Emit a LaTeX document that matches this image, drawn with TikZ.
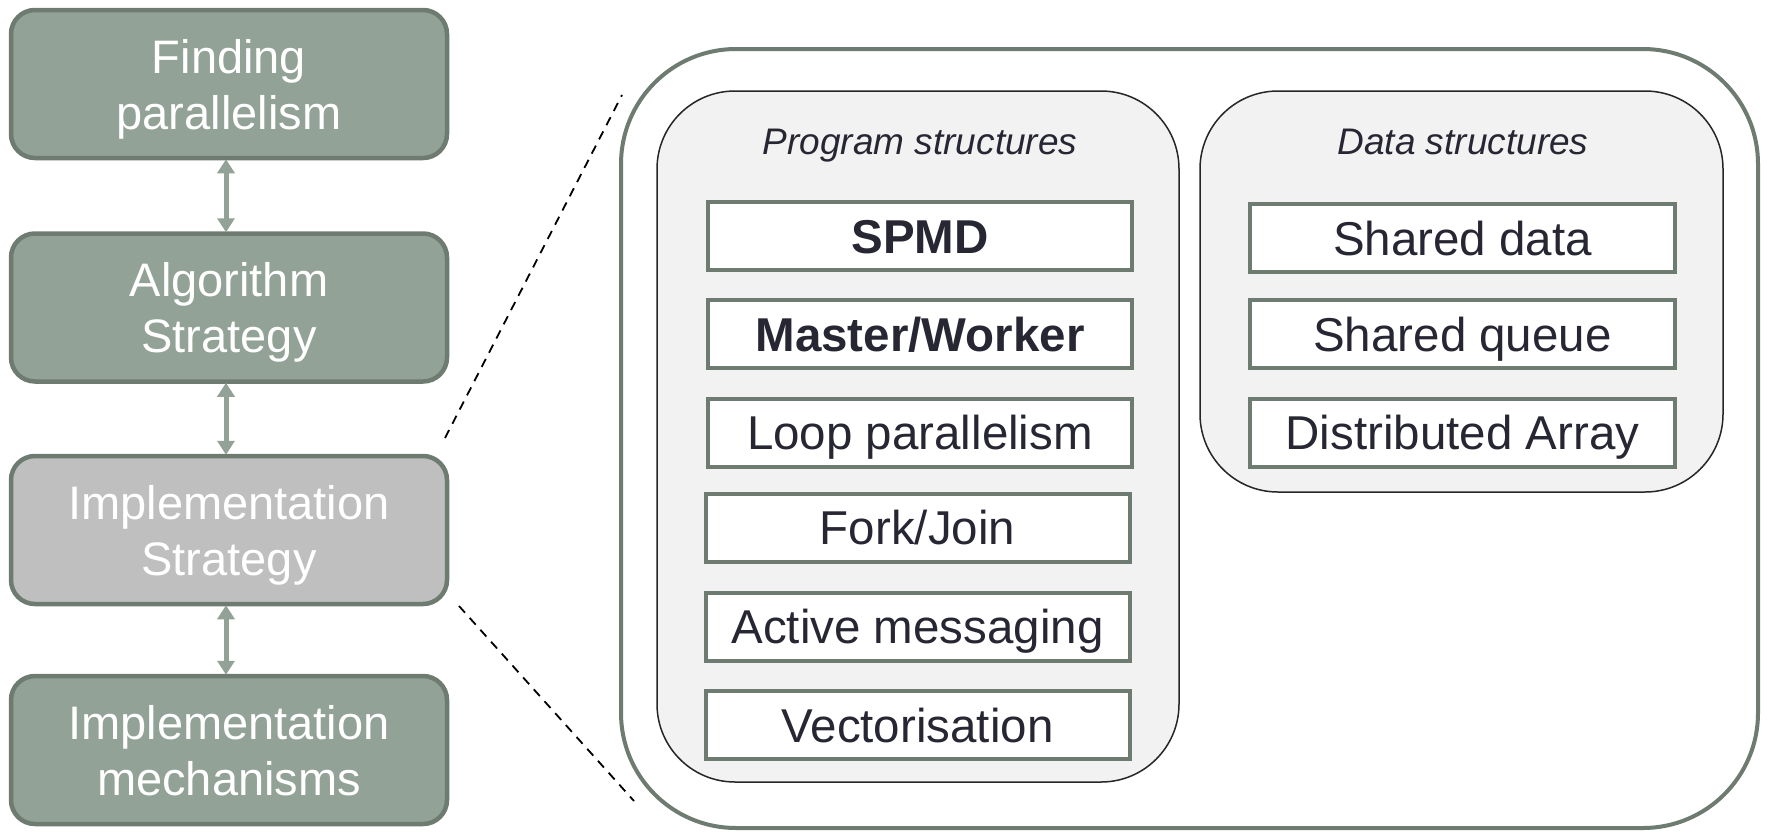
\documentclass[tikz,border=0pt]{standalone}
\usepackage{fontspec}
\setmainfont{Liberation Sans}
\usetikzlibrary{arrows.meta}
\definecolor{sage}{HTML}{92A296}
\definecolor{sagedark}{HTML}{6E7B70}
\definecolor{greybox}{HTML}{BFBFBF}
\definecolor{txt}{HTML}{272734}
\definecolor{panel}{HTML}{F2F2F2}
\newcommand{\topstrut}{\rule{0pt}{44pt}}
\newcommand{\botstrut}{\rule[-10pt]{0pt}{10pt}}
\begin{document}
\begin{tikzpicture}[x=1pt,y=-1pt,
  stage/.style={draw=sagedark, line width=4.5pt, fill=sage, rounded corners=24pt,
    minimum width=436pt, minimum height=148pt, text=white, align=center,
    font=\fontsize{47}{56}\selectfont, inner sep=0pt},
  current/.style={stage, fill=greybox},
  link/.style={draw=sage, line width=5pt, {Triangle[width=17pt,length=14pt]}-{Triangle[width=17pt,length=14pt]}, shorten <=-1pt, shorten >=-1pt},
  outerpanel/.style={draw=sagedark, line width=4pt, fill=white, rounded corners=115pt, inner sep=0pt},
  subpanel/.style={draw=black!85, line width=1.5pt, fill=panel, rounded corners=78pt, inner sep=0pt},
  paneltitle/.style={text=txt, font=\fontsize{37}{44}\selectfont\itshape, inner sep=0pt,
    text height=27pt, text depth=0pt},
  item/.style={draw=sagedark, line width=4pt, fill=white, minimum width=424pt, minimum height=68pt,
    text=txt, font=\fontsize{47.5}{56}\selectfont, inner sep=0pt, text height=34pt, text depth=0pt},
  bolditem/.style={item, font=\fontsize{47.5}{56}\selectfont\bfseries},
  zoomline/.style={draw=black, line width=1.8pt, dash pattern=on 9pt off 7pt}
]
\useasboundingbox (0,0) rectangle (1769,833);

% left column
\node[stage]   (find) at (229,84)    {\topstrut Finding\\parallelism\botstrut};
\node[stage]   (algo) at (229,307.5) {\topstrut Algorithm\\Strategy\botstrut};
\node[current] (impl) at (229,530)   {\topstrut Implementation\\Strategy\botstrut};
\node[stage]   (mech) at (229,750)   {\topstrut Implementation\\mechanisms\botstrut};

\draw[link] ([xshift=-3pt]find.south) -- ([xshift=-3pt]algo.north);
\draw[link] ([xshift=-3pt]algo.south) -- ([xshift=-3pt]impl.north);
\draw[link] ([xshift=-3pt]impl.south) -- ([xshift=-3pt]mech.north);

% zoom panel
\node[outerpanel, minimum width=1137pt, minimum height=779pt] (outer) at (1189.5,438.5) {};
\node[subpanel, minimum width=522pt, minimum height=691pt] (prog) at (918,436.5) {};
\node[subpanel, minimum width=523pt, minimum height=401pt] (data) at (1461.5,291.5) {};

\node[paneltitle] (progt) at (920,141) {Program structures};
\node[paneltitle] (datat) at (1463,141) {Data structures};

\node[bolditem] (spmd)   at (920,236)     {SPMD};
\node[bolditem] (master) at (920,334)     {Master/Worker};
\node[item]     (loop)   at (920,432.5)   {Loop parallelism};
\node[item]     (fork)   at (917.5,527.5) {Fork/Join};
\node[item]     (active) at (917.5,626.5) {Active messaging};
\node[item]     (vect)   at (917.5,725)   {Vectorisation};

\node[item, minimum width=425pt] (sdata)  at (1462.5,238)   {Shared data};
\node[item, minimum width=425pt] (squeue) at (1462.5,334)   {Shared queue};
\node[item, minimum width=425pt] (darr)   at (1462.5,432.5) {Distributed Array};

% zoom lines
\coordinate (z1a) at (445,438);
\coordinate (z1b) at (622,95);
\coordinate (z2a) at (459,606);
\coordinate (z2b) at (634,801);
\draw[zoomline] (z1a) -- (z1b);
\draw[zoomline] (z2a) -- (z2b);
\end{tikzpicture}
\end{document}
